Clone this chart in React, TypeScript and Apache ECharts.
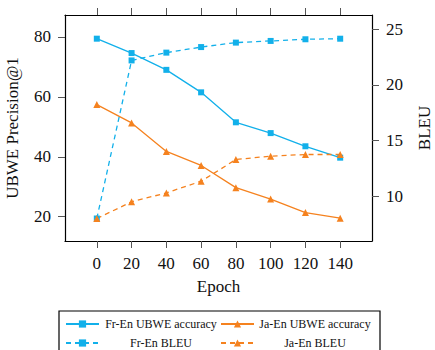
import React, { useEffect, useRef } from "react";
import * as echarts from "echarts";

const epochs = [0, 20, 40, 60, 80, 100, 120, 140];
const frEnAccuracy = [79.4, 74.6, 69.0, 61.5, 51.5, 47.9, 43.5, 39.7];
const jaEnAccuracy = [57.4, 51.3, 41.8, 37.1, 29.7, 25.9, 21.4, 19.5];
const frEnBleu = [8.0, 22.2, 22.9, 23.4, 23.8, 23.95, 24.1, 24.15];
const jaEnBleu = [8.0, 9.5, 10.3, 11.35, 13.3, 13.6, 13.75, 13.75];

const xTicks = [0, 20, 40, 60, 80, 100, 120, 140];
const leftTicks = [20, 40, 60, 80];
const rightTicks = [10, 15, 20, 25];

const BLUE = "#12b0ea";
const ORANGE = "#f5821f";
const FONT = "'Liberation Serif', 'Times New Roman', serif";

const pairs = (ys: number[]) => epochs.map((x, i) => [x, ys[i]]);

export default function App() {
  const ref = useRef<HTMLDivElement>(null);

  useEffect(() => {
    if (!ref.current) return;
    const chart = echarts.init(ref.current, null, { renderer: "svg" });

    const axisLine = () => ({ show: true, onZero: false, lineStyle: { color: "#000", width: 1.2 } });
    const tick = (vals: number[]) => ({
      show: true,
      inside: false,
      length: 7,
      customValues: vals,
      lineStyle: { color: "#555", width: 1 },
    });
    const label = (vals: number[], show = true) => ({
      show,
      customValues: vals,
      margin: 14,
      color: "#111",
      fontFamily: FONT,
      fontSize: 17,
    });
    const nameStyle = () => ({ color: "#111", fontFamily: FONT, fontSize: 17 });

    const legendItem = (name: string, left: number, top: number, w: number) => ({
      show: true,
      data: [name],
      left,
      top,
      padding: 0,
      itemWidth: 33,
      itemHeight: 9,
      itemGap: 0,
      selectedMode: false,
      formatter: (n: string) => `{t|${n}}`,
      textStyle: {
        color: "#111",
        fontFamily: FONT,
        fontSize: 12,
        rich: { t: { width: w, align: "center", fontFamily: FONT, fontSize: 12, color: "#111" } },
      },
    });

    const lineSeries = (
      name: string,
      data: number[],
      color: string,
      symbol: string,
      dashed: boolean,
      yAxisIndex: number,
      size: number
    ) => ({
      name,
      type: "line",
      xAxisIndex: 0,
      yAxisIndex,
      data: pairs(data),
      symbol,
      symbolSize: size,
      showSymbol: true,
      color,
      itemStyle: { color },
      lineStyle: { color, width: 1.3, type: dashed ? [5, 4] : "solid" },
    });

    chart.setOption({
      animation: false,
      backgroundColor: "#fff",
      textStyle: { fontFamily: FONT },
      grid: {
        left: 65,
        top: 15,
        right: 63,
        bottom: 109,
        containLabel: false,
        outerBoundsMode: "none",
      },
      xAxis: [
        {
          type: "value",
          position: "bottom",
          min: -18.3,
          max: 158.3,
          name: "Epoch",
          nameLocation: "middle",
          nameGap: 37,
          nameTextStyle: nameStyle(),
          axisLine: axisLine(),
          axisTick: tick(xTicks),
          axisLabel: label(xTicks),
          splitLine: { show: false },
        },
        {
          type: "value",
          position: "top",
          min: -18.3,
          max: 158.3,
          axisLine: axisLine(),
          axisTick: tick(xTicks),
          axisLabel: label(xTicks, false),
          splitLine: { show: false },
        },
      ],
      yAxis: [
        {
          type: "value",
          position: "left",
          min: 11.9,
          max: 87.3,
          name: "UBWE Precision@1",
          nameLocation: "middle",
          nameRotate: 90,
          nameGap: 44,
          nameTextStyle: nameStyle(),
          axisLine: axisLine(),
          axisTick: tick(leftTicks),
          axisLabel: label(leftTicks),
          splitLine: { show: false },
        },
        {
          type: "value",
          position: "right",
          min: 5.98,
          max: 26.28,
          name: "BLEU",
          nameLocation: "middle",
          nameRotate: 90,
          nameGap: 44,
          nameTextStyle: nameStyle(),
          axisLine: axisLine(),
          axisTick: tick(rightTicks),
          axisLabel: label(rightTicks),
          splitLine: { show: false },
        },
      ],
      legend: [
        legendItem("Fr-En UBWE accuracy", 65, 318, 114),
        legendItem("Ja-En UBWE accuracy", 220, 318, 112),
        legendItem("Fr-En BLEU", 65, 337, 114),
        legendItem("Ja-En BLEU", 220, 337, 112),
      ],
      graphic: [
        {
          type: "rect",
          shape: { x: 59, y: 311, width: 321, height: 60 },
          style: { fill: "none", stroke: "#000", lineWidth: 1.2 },
          silent: true,
        },
      ],
      series: [
        lineSeries("Fr-En UBWE accuracy", frEnAccuracy, BLUE, "rect", false, 0, 6),
        lineSeries("Ja-En UBWE accuracy", jaEnAccuracy, ORANGE, "triangle", false, 0, 7),
        lineSeries("Fr-En BLEU", frEnBleu, BLUE, "rect", true, 1, 6),
        lineSeries("Ja-En BLEU", jaEnBleu, ORANGE, "triangle", true, 1, 7),
      ],
    });

    return () => chart.dispose();
  }, []);

  return (
    <div
      ref={ref}
      style={{ position: "fixed", left: 0, top: 0, width: 435, height: 350, background: "#fff" }}
    />
  );
}
